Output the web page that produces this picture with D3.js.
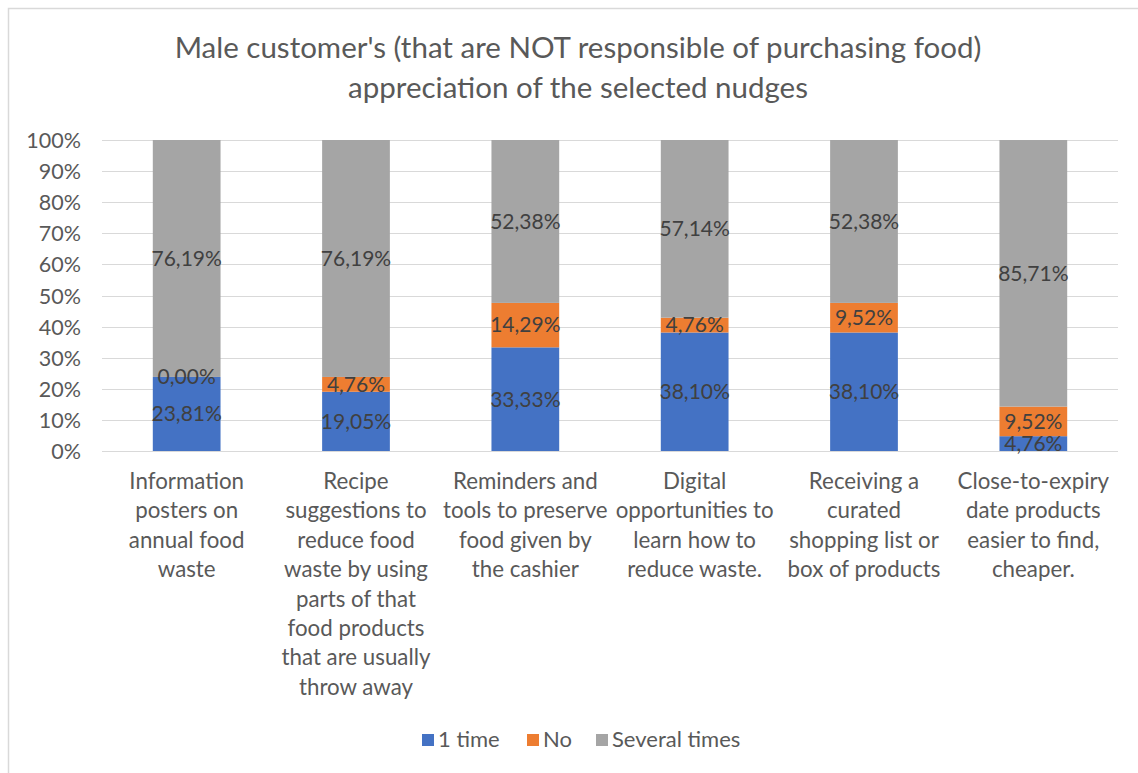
<!DOCTYPE html>
<html>
<head>
<meta charset="utf-8">
<script src="https://cdn.jsdelivr.net/npm/d3@7"></script>
<style>
  html, body { margin: 0; padding: 0; background: #fff; }
  svg { display: block; font-family: Lato, "Open Sans", sans-serif; }
</style>
</head>
<body>
<svg id="chart" width="1138" height="773"></svg>
<script>
// Nudge categories (label lines as wrapped under the axis)
const categories = [
  ["Information", "posters on", "annual food", "waste"],
  ["Recipe", "suggestions to", "reduce food", "waste by using", "parts of that", "food products", "that are usually", "throw away"],
  ["Reminders and", "tools to preserve", "food given by", "the cashier"],
  ["Digital", "opportunities to", "learn how to", "reduce waste."],
  ["Receiving a", "curated", "shopping list or", "box of products"],
  ["Close-to-expiry", "date products", "easier to find,", "cheaper."]
];

// Shares per answer, in percent
const oneTime = [23.81, 19.05, 33.33, 38.10, 38.10, 4.76];
const no = [0.00, 4.76, 14.29, 4.76, 9.52, 9.52];
const severalTimes = [76.19, 76.19, 52.38, 57.14, 52.38, 85.71];

const seriesNames = ["1 time", "No", "Several times"];
const seriesColors = ["#4472C4", "#ED7D31", "#A5A5A5"];
const yTicks = [0, 10, 20, 30, 40, 50, 60, 70, 80, 90, 100];
const titleLines = [
  "Male customer's (that are NOT responsible of purchasing food)",
  "appreciation of the selected nudges"
];

const svg = d3.select("#chart");

// outer chart frame
svg.append("rect")
  .attr("x", 8.5).attr("y", 8.5)
  .attr("width", 1140).attr("height", 800)
  .attr("fill", "#fff").attr("stroke", "#d9d9d9").attr("stroke-width", 1.5);

const plot = { left: 102, right: 1118, top: 140, bottom: 451 };

const x = d3.scaleBand()
  .domain(d3.range(categories.length))
  .range([plot.left, plot.right])
  .paddingInner(0.6).paddingOuter(0.3);

const y = d3.scaleLinear().domain([0, 100]).range([plot.bottom, plot.top]);

// title
svg.append("g").selectAll("text").data(titleLines).join("text")
  .attr("x", 578).attr("y", (d, i) => 58 + i * 40)
  .attr("text-anchor", "middle")
  .attr("font-size", 29.5)
  .attr("fill", "#595959")
  .text(d => d);

// gridlines
svg.append("g").selectAll("line").data(yTicks).join("line")
  .attr("x1", plot.left).attr("x2", plot.right)
  .attr("y1", d => Math.round(y(d)) + 0.5).attr("y2", d => Math.round(y(d)) + 0.5)
  .attr("stroke", "#d9d9d9").attr("stroke-width", 1.2);

// y axis labels
const yAxis = d3.axisLeft(y).tickValues(yTicks).tickFormat(d => d + "%").tickSize(0).tickPadding(0);
const yg = svg.append("g").attr("transform", `translate(${plot.left - 21},0)`).call(yAxis);
yg.select(".domain").remove();
yg.selectAll("text")
  .attr("font-family", "Lato, 'Open Sans', sans-serif")
  .attr("font-size", 21.5).attr("fill", "#595959").attr("dy", "0.35em");

// stacked data
const rows = categories.map((c, i) => ({ i, "1 time": oneTime[i], "No": no[i], "Several times": severalTimes[i] }));
const stack = d3.stack().keys(seriesNames)(rows);

const layers = svg.append("g").selectAll("g").data(stack).join("g")
  .attr("fill", (d, k) => seriesColors[k]);

layers.selectAll("rect").data(d => d).join("rect")
  .attr("x", d => x(d.data.i))
  .attr("width", x.bandwidth())
  .attr("y", d => y(d[1]))
  .attr("height", d => y(d[0]) - y(d[1]));

// data labels
const fmt = v => v.toFixed(2).replace(".", ",") + "%";
svg.append("g").selectAll("g").data(stack).join("g")
  .selectAll("text").data(d => d.map(p => ({ p, key: d.key }))).join("text")
  .attr("x", d => x(d.p.data.i) + x.bandwidth() / 2)
  .attr("y", d => y((d.p[0] + d.p[1]) / 2))
  .attr("dy", "0.35em")
  .attr("text-anchor", "middle")
  .attr("font-size", 21)
  .attr("fill", "#404040")
  .text(d => fmt(d.p.data[d.key]));

// category labels
const xg = svg.append("g");
categories.forEach((lines, i) => {
  xg.append("text")
    .attr("x", x(i) + x.bandwidth() / 2)
    .attr("y", 489)
    .attr("text-anchor", "middle")
    .attr("font-size", 22.3)
    .attr("fill", "#595959")
    .selectAll("tspan").data(lines).join("tspan")
    .attr("x", x(i) + x.bandwidth() / 2)
    .attr("dy", (d, j) => j === 0 ? 0 : 29.4)
    .text(d => d);
});

// legend
const legendX = [422, 527, 596];
const lg = svg.append("g");
seriesNames.forEach((name, k) => {
  lg.append("rect")
    .attr("x", legendX[k]).attr("y", 734)
    .attr("width", 12).attr("height", 12)
    .attr("fill", seriesColors[k]);
  lg.append("text")
    .attr("x", legendX[k] + 16).attr("y", 747)
    .attr("font-size", 22)
    .attr("fill", "#595959")
    .text(name);
});
</script>
</body>
</html>
